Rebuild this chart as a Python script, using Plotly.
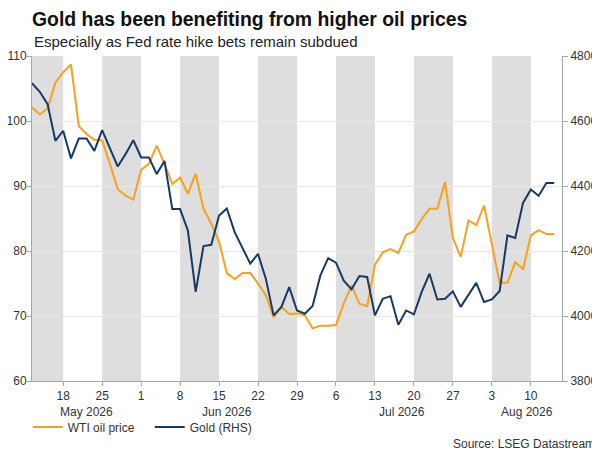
import pandas as pd
import plotly.graph_objects as go

# daily closes, business days 12 May - 13 Aug 2026
start_day = "2026-05-12"
end_day = "2026-08-13"
axis_end = "2026-08-14"

wti = [102.1, 101.0, 101.9, 105.9, 107.5, 108.7, 99.2, 98.0, 97.1, 97.0,
       93.4, 89.5, 88.5, 87.9, 92.5, 93.4, 96.2, 93.4, 90.3, 91.3,
       88.8, 91.9, 86.5, 84.2, 81.4, 76.6, 75.7, 76.6, 76.6, 75.0,
       73.2, 69.8, 71.4, 70.3, 70.4, 70.1, 68.1, 68.5, 68.5, 68.6,
       71.9, 74.7, 71.9, 71.5, 77.9, 79.8, 80.3, 79.7, 82.5, 83.0,
       84.9, 86.5, 86.5, 90.6, 82.0, 79.1, 84.7, 84.0, 87.0, 80.8,
       75.1, 75.1, 78.3, 77.2, 82.4, 83.2, 82.6, 82.6]

gold = [4716, 4690, 4652, 4539, 4570, 4485, 4546, 4546, 4508, 4572,
        4516, 4460, 4498, 4541, 4488, 4488, 4437, 4477, 4329, 4329,
        4263, 4074, 4215, 4219, 4309, 4331, 4258, 4209, 4161, 4191,
        4115, 4002, 4028, 4089, 4017, 4007, 4031, 4125, 4178, 4164,
        4109, 4082, 4123, 4120, 4002, 4053, 4061, 3973, 4017, 4005,
        4074, 4130, 4051, 4053, 4076, 4028, 4065, 4102, 4043, 4051,
        4077, 4248, 4240, 4348, 4389, 4370, 4409, 4409]

week_ticks = pd.date_range("2026-05-18", "2026-08-10", freq="7D")
week_labels = [str(d.day) for d in week_ticks]
shaded_weeks = pd.date_range("2026-05-11", "2026-08-03", freq="14D")
month_names = ["May 2026", "Jun 2026", "Jul 2026", "Aug 2026"]

dates = pd.bdate_range(start_day, end_day)

ORANGE = "#F9A11B"
NAVY = "#173A64"
FONT = "Liberation Sans, Arial, sans-serif"

fig = go.Figure()
fig.add_trace(go.Scatter(x=dates, y=wti, name="WTI oil price", mode="lines",
                         line=dict(color=ORANGE, width=2)))
fig.add_trace(go.Scatter(x=dates, y=gold, name="Gold (RHS)", mode="lines",
                         line=dict(color=NAVY, width=2), yaxis="y2"))

# alternate grey weeks
for wk in shaded_weeks:
    x0 = max(wk, pd.Timestamp(start_day))
    x1 = min(wk + pd.Timedelta(days=7), pd.Timestamp(axis_end))
    fig.add_shape(type="rect", xref="x", yref="paper", x0=x0, x1=x1, y0=0, y1=1,
                  fillcolor="#DEDEDE", line_width=0, layer="below")

# month labels centred under each month's span
axis_days = pd.bdate_range(start_day, axis_end)
last_pos = len(axis_days) - 1
for name in month_names:
    m = pd.Timestamp(name)
    idx = [i for i, d in enumerate(axis_days) if d.month == m.month]
    lo = idx[0]
    hi = min(idx[-1] + 1, last_pos)
    mid = (lo + hi) / 2
    xm = axis_days[int(mid)] + pd.Timedelta(hours=24 * (mid - int(mid)))
    fig.add_annotation(x=xm, y=0, xref="x", yref="paper", text=name,
                       showarrow=False, yanchor="middle", yshift=-31,
                       font=dict(size=12, color="#333333", family=FONT))

fig.add_annotation(x=1.066, y=-0.193, xref="paper", yref="paper",
                   text="Source: LSEG Datastream", showarrow=False,
                   xanchor="right", yanchor="middle",
                   font=dict(size=12, color="#333333", family=FONT))
fig.add_annotation(x=0, y=1.046, xref="paper", yref="paper",
                   text="Especially as Fed rate hike bets remain subdued",
                   showarrow=False, xanchor="left", yanchor="middle",
                   font=dict(size=15, color="#222222", family=FONT))

# page body adds an 8px offset, so the figure is 8px smaller
fig.update_layout(
    width=592, height=444,
    margin=dict(l=24, r=38, t=48, b=70),
    paper_bgcolor="white", plot_bgcolor="white",
    font=dict(family=FONT, size=12, color="#333333"),
    title=dict(text="<b>Gold has been benefiting from higher oil prices</b>",
               x=0, xref="paper", xanchor="left",
               y=1 - 11 / 444, yref="container", yanchor="middle",
               font=dict(size=19.4, color="#111111", family=FONT)),
    showlegend=True,
    legend=dict(orientation="h", x=-0.008, xanchor="left", y=-0.138, yanchor="middle",
                font=dict(size=12, color="#333333"), bgcolor="rgba(0,0,0,0)",
                itemwidth=30, entrywidth=77),
    xaxis=dict(type="date", range=[start_day, axis_end],
               rangebreaks=[dict(bounds=["sat", "mon"])],
               tickvals=week_ticks, ticktext=week_labels,
               ticks="outside", ticklen=4, tickcolor="#A6A6A6",
               showline=True, linecolor="#A6A6A6", linewidth=1,
               showgrid=False, zeroline=False, automargin=False,
               tickfont=dict(size=12, color="#333333")),
    yaxis=dict(range=[60, 110], dtick=10, ticks="outside", ticklen=4,
               ticklabelstandoff=-2,
               tickcolor="#A6A6A6", showline=True, linecolor="#A6A6A6",
               showgrid=True, gridcolor="#E8E8E8", zeroline=False,
               automargin=False, tickfont=dict(size=12, color="#333333")),
    yaxis2=dict(range=[3800, 4800], dtick=200, overlaying="y", side="right",
                ticks="outside", ticklen=5, tickcolor="#A6A6A6",
                showline=True, linecolor="#A6A6A6", showgrid=False,
                zeroline=False, automargin=False,
                tickfont=dict(size=12, color="#333333")),
)

fig.write_html("out.html")
